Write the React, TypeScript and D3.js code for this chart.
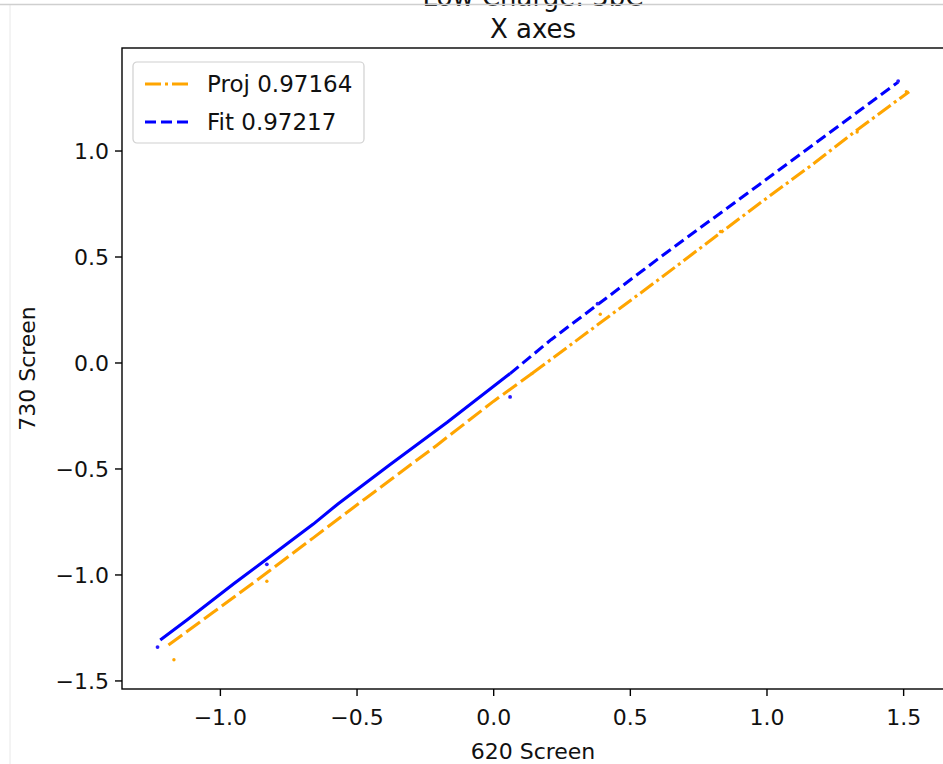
import React from 'react'
import * as d3 from 'd3'

// fit (blue) line through points
const fitX = [-1.22, -1.12, -0.95, -0.83, -0.66, -0.57, -0.38, -0.17, 0.06, 0.21, 0.38, 0.6, 0.7, 0.97, 1.17, 1.38, 1.48]
const fitY = [-1.307, -1.21, -1.04, -0.925, -0.76, -0.665, -0.48, -0.28, -0.05, 0.11, 0.275, 0.49, 0.585, 0.84, 1.03, 1.23, 1.325]
const fitSplit = 0.06

// projection (orange) line through points
const projX = [-1.19, -1.03, -0.83, -0.66, -0.47, -0.21, 0.0, 0.14, 0.38, 0.6, 0.8, 0.97, 1.17, 1.32, 1.52]
const projY = [-1.33, -1.18, -0.99, -0.825, -0.64, -0.39, -0.18, -0.05, 0.18, 0.39, 0.585, 0.75, 0.94, 1.09, 1.28]
const projSplit = 0.14

// stray sample points
const fitDotX = [-1.23, 0.06, -0.83, 0.38, 1.48]
const fitDotY = [-1.34, -0.16, -0.95, 0.28, 1.33]
const projDotX = [-1.17, -0.83, 0.14, 0.39, 0.83, 1.33, 1.51]
const projDotY = [-1.4, -1.03, -0.05, 0.23, 0.62, 1.09, 1.28]

const xTicks = [-1.0, -0.5, 0.0, 0.5, 1.0, 1.5]
const yTicks = [-1.5, -1.0, -0.5, 0.0, 0.5, 1.0]

const legendItems = [
  { label: 'Proj 0.97164', color: '#ffa500', dash: '16,4,3,4' },
  { label: 'Fit 0.97217', color: '#0000ff', dash: '11,5' },
]

const W = 943
const H = 764
const left = 122
const right = 946
const top = 48
const bottom = 689
const FONT = 'DejaVu Sans, sans-serif'

const fmt = (v: number) => (v < 0 ? '\u2212' : '') + Math.abs(v).toFixed(1)

export default function App() {
  const x = d3.scaleLinear().domain([-1.36, 1.655]).range([left, right])
  const y = d3.scaleLinear().domain([-1.538, 1.486]).range([bottom, top])

  const line = d3.line<[number, number]>().x(d => x(d[0])).y(d => y(d[1]))

  const fitPts = fitX.map((v, i) => [v, fitY[i]] as [number, number])
  const projPts = projX.map((v, i) => [v, projY[i]] as [number, number])
  const fitLow = fitPts.filter(p => p[0] <= fitSplit)
  const fitHigh = fitPts.filter(p => p[0] >= fitSplit)
  const projLow = projPts.filter(p => p[0] <= projSplit)
  const projHigh = projPts.filter(p => p[0] >= projSplit)

  return (
    <svg width={W} height={H} style={{ position: 'absolute', left: 0, top: 0, background: '#fff' }} fontFamily={FONT}>
      <defs>
        <clipPath id="plot">
          <rect x={left} y={top} width={right - left} height={bottom - top} />
        </clipPath>
      </defs>
      <rect x={0} y={0} width={W} height={H} fill="#fff" />
      <line x1={10} x2={10} y1={4} y2={H} stroke="#e8e8e8" strokeWidth={1} />

      {/* titles (first line is cut by the top edge, as in the source) */}
      <text x={533} y={6} textAnchor="middle" fontSize={26} fill="#111">Low Charge: 5bC</text>
      <line x1={0} x2={W} y1={4.5} y2={4.5} stroke="#cfcfcf" strokeWidth={1.5} />
      <text x={533} y={38} textAnchor="middle" fontSize={26} fill="#111">X axes</text>

      <g clipPath="url(#plot)">
        <path d={line(projLow) ?? ''} fill="none" stroke="#ffa500" strokeWidth={3.1} strokeDasharray="17,5" />
        <path d={line(projHigh) ?? ''} fill="none" stroke="#ffa500" strokeWidth={3.1} strokeDasharray="16,4,3,4" />
        <path d={line(fitLow) ?? ''} fill="none" stroke="#0000ff" strokeWidth={3.1} />
        <path d={line(fitHigh) ?? ''} fill="none" stroke="#0000ff" strokeWidth={3.1} strokeDasharray="11,5" />
        {projDotX.map((v, i) => (
          <circle key={'p' + i} cx={x(v)} cy={y(projDotY[i])} r={1.7} fill="#ffa500" />
        ))}
        {fitDotX.map((v, i) => (
          <circle key={'f' + i} cx={x(v)} cy={y(fitDotY[i])} r={1.9} fill="#2a1aff" />
        ))}
      </g>

      {/* spines */}
      <rect x={left} y={top} width={right - left} height={bottom - top} fill="none" stroke="#000" strokeWidth={1.4} />

      {/* x axis */}
      {xTicks.map(t => (
        <g key={'x' + t} transform={`translate(${x(t)},${bottom})`}>
          <line y1={0} y2={7} stroke="#000" strokeWidth={1.4} />
          <text y={36} textAnchor="middle" fontSize={22} fill="#111">{fmt(t)}</text>
        </g>
      ))}
      <text x={533} y={759} textAnchor="middle" fontSize={22} fill="#111">620 Screen</text>

      {/* y axis */}
      {yTicks.map(t => (
        <g key={'y' + t} transform={`translate(${left},${y(t)})`}>
          <line x1={0} x2={-7} stroke="#000" strokeWidth={1.4} />
          <text x={-13} dy="0.36em" textAnchor="end" fontSize={22} fill="#111">{fmt(t)}</text>
        </g>
      ))}
      <text transform={`translate(35,${(top + bottom) / 2}) rotate(-90)`} textAnchor="middle" fontSize={22} fill="#111">730 Screen</text>

      {/* legend */}
      <g transform="translate(133,62)">
        <rect x={0} y={0} width={231} height={81} rx={4} fill="#fff" fillOpacity={0.8} stroke="#d0d0d0" strokeWidth={1.2} />
        {legendItems.map((it, i) => (
          <g key={it.label} transform={`translate(0,${22 + i * 38})`}>
            <line x1={12} x2={58} y1={0} y2={0} stroke={it.color} strokeWidth={3.1} strokeDasharray={it.dash} />
            <text x={74} dy="0.36em" fontSize={23} fill="#111">{it.label}</text>
          </g>
        ))}
      </g>
    </svg>
  )
}
